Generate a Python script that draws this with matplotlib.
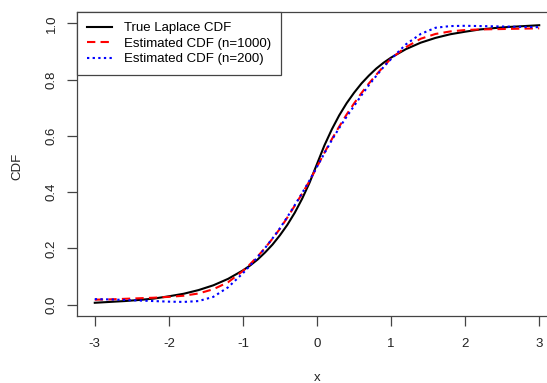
import matplotlib
matplotlib.use("Agg")
import matplotlib.pyplot as plt

plt.rcParams['font.family'] = ['Liberation Sans', 'DejaVu Sans']

x_grid = [-3.0, -2.8, -2.6, -2.4, -2.2, -2.0, -1.8, -1.6, -1.4, -1.2,
          -1.0, -0.9, -0.8, -0.7, -0.6, -0.5, -0.4, -0.3, -0.2, -0.1,
          0.0, 0.1, 0.2, 0.3, 0.4, 0.5, 0.6, 0.7, 0.8, 0.9,
          1.0, 1.2, 1.4, 1.6, 1.8, 2.0, 2.2, 2.4, 2.6, 2.8, 3.0]

true_cdf = [0.007, 0.010, 0.013, 0.017, 0.022, 0.030, 0.039, 0.052, 0.069, 0.092,
            0.122, 0.140, 0.161, 0.186, 0.214, 0.247, 0.284, 0.327, 0.377, 0.434,
            0.500, 0.566, 0.623, 0.673, 0.716, 0.753, 0.786, 0.814, 0.839, 0.860,
            0.878, 0.908, 0.931, 0.948, 0.961, 0.970, 0.978, 0.983, 0.987, 0.990, 0.993]

est_1000 = [0.018, 0.019, 0.021, 0.023, 0.025, 0.028, 0.032, 0.040, 0.055, 0.080,
            0.120, 0.145, 0.172, 0.202, 0.235, 0.270, 0.310, 0.352, 0.395, 0.440,
            0.490, 0.540, 0.588, 0.633, 0.676, 0.715, 0.752, 0.786, 0.817, 0.847,
            0.875, 0.915, 0.945, 0.962, 0.971, 0.976, 0.978, 0.979, 0.980, 0.981, 0.982]

est_200 = [0.020, 0.019, 0.017, 0.015, 0.013, 0.011, 0.010, 0.013, 0.028, 0.062,
           0.112, 0.140, 0.170, 0.202, 0.236, 0.272, 0.312, 0.354, 0.397, 0.442,
           0.490, 0.538, 0.585, 0.628, 0.668, 0.706, 0.744, 0.780, 0.813, 0.845,
           0.873, 0.925, 0.962, 0.984, 0.990, 0.991, 0.990, 0.989, 0.988, 0.987, 0.986]

labels = ["True Laplace CDF", "Estimated CDF (n=1000)", "Estimated CDF (n=200)"]
x_ticks = [-3, -2, -1, 0, 1, 2, 3]
y_ticks = [0.0, 0.2, 0.4, 0.6, 0.8, 1.0]

W, H = 547, 383
fig = plt.figure(figsize=(W / 100, H / 100), dpi=100)
ax = fig.add_axes([77 / W, (H - 316) / H, 480 / W, 304 / H])

ax.plot(x_grid, true_cdf, color='black', lw=1.5, label=labels[0])
ax.plot(x_grid, est_1000, color='#ff0000', lw=1.5, dashes=(4, 2.5), label=labels[1])
ax.plot(x_grid, est_200, color='#0000ff', lw=1.5, dashes=(1.1, 1.6), label=labels[2])

ax.set_xlim(-3.24, 3.24)
ax.set_ylim(-0.04, 1.04)
ax.set_xticks(x_ticks)
ax.set_xticklabels([str(t) for t in x_ticks])
ax.set_yticks(y_ticks)
ax.set_yticklabels([f"{t:.1f}" for t in y_ticks])

for s in ax.spines.values():
    s.set_color('#444444')
    s.set_linewidth(0.9)

ax.tick_params(axis='both', direction='out', length=7, width=0.9, color='#444444',
               labelsize=9.5, labelcolor='#222222')
ax.tick_params(axis='x', pad=9)
ax.tick_params(axis='y', pad=7)
for lab in ax.get_yticklabels():
    lab.set_rotation(90)
    lab.set_va('center')

fig.text(317 / W, 1 - 378 / H, 'x', ha='center', va='center', fontsize=9.5, color='#222222')
fig.text(17 / W, 1 - 166 / H, 'CDF', ha='center', va='center', rotation=90, fontsize=9.5,
         color='#222222')

leg = ax.legend(loc='upper left', bbox_to_anchor=(0, 1), borderaxespad=0, fancybox=False,
                framealpha=1, edgecolor='#444444', fontsize=9.5, handlelength=1.9,
                handletextpad=0.9, labelspacing=0.25, borderpad=0.75)
leg.get_frame().set_linewidth(0.9)

fig.savefig('out.png', dpi=100)
